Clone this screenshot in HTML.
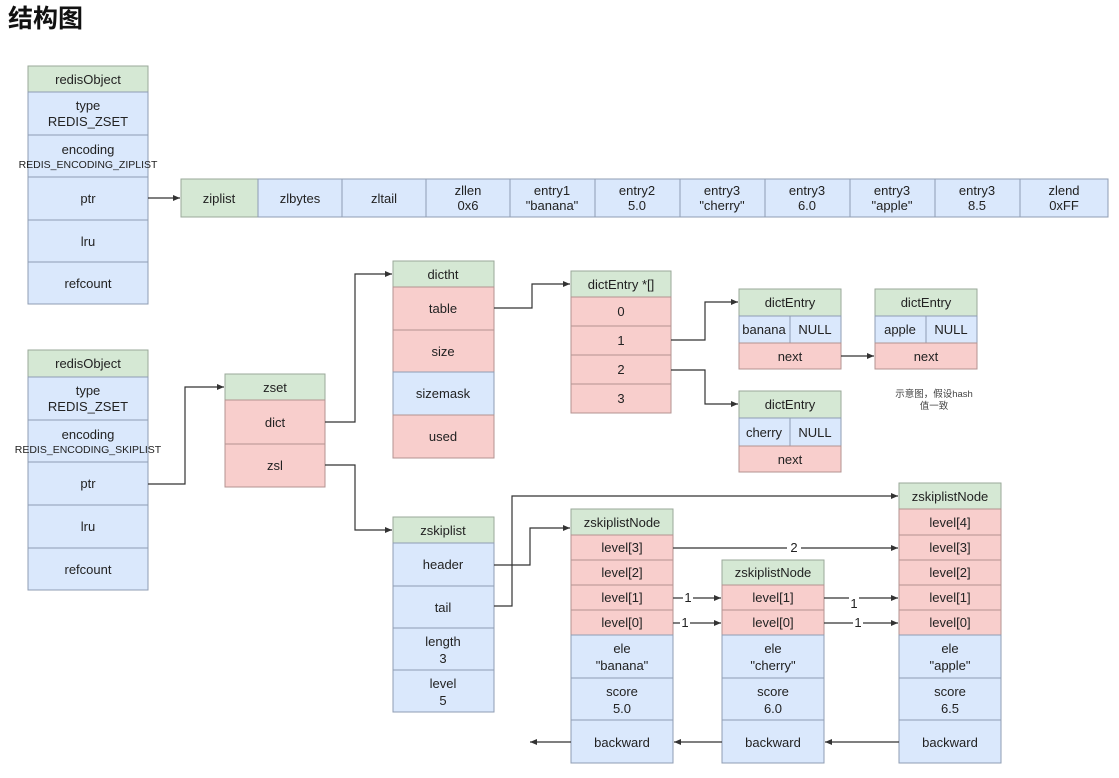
<!DOCTYPE html>
<html><head><meta charset="utf-8">
<style>
html,body{margin:0;padding:0;background:#fff;width:1119px;height:778px;overflow:hidden}
svg text{font-family:"Liberation Sans","Noto Sans CJK SC",sans-serif;font-size:13px;fill:#222}
.g{fill:#d5e8d4;stroke:#9aa89a;stroke-width:1}
.b{fill:#dae8fc;stroke:#8f9db3;stroke-width:1}
.r{fill:#f8cecc;stroke:#b39391;stroke-width:1}
.l{fill:none;stroke:#333;stroke-width:1.2}
</style></head><body>
<svg width="1119" height="778" xmlns="http://www.w3.org/2000/svg">
<defs><marker id="a" markerWidth="8" markerHeight="8" refX="7" refY="4" orient="auto" markerUnits="userSpaceOnUse"><path d="M0,1 L7,4 L0,7 z" fill="#333"/></marker></defs>
<text x="8" y="27" style="font-size:25px;font-weight:bold;fill:#111">结构图</text>

<!-- redisObject 1 -->
<rect class="g" x="28" y="66" width="120" height="26"/><text x="88" y="84" text-anchor="middle">redisObject</text>
<rect class="b" x="28" y="92" width="120" height="43"/><text x="88" y="110" text-anchor="middle">type</text><text x="88" y="126" text-anchor="middle">REDIS_ZSET</text>
<rect class="b" x="28" y="135" width="120" height="42"/><text x="88" y="154" text-anchor="middle">encoding</text><text x="88" y="168" text-anchor="middle" style="font-size:10.5px">REDIS_ENCODING_ZIPLIST</text>
<rect class="b" x="28" y="177" width="120" height="43"/><text x="88" y="203" text-anchor="middle">ptr</text>
<rect class="b" x="28" y="220" width="120" height="42"/><text x="88" y="246" text-anchor="middle">lru</text>
<rect class="b" x="28" y="262" width="120" height="42"/><text x="88" y="288" text-anchor="middle">refcount</text>

<!-- ziplist -->
<rect class="g" x="181" y="179" width="77" height="38"/><text x="219" y="203" text-anchor="middle">ziplist</text>
<rect class="b" x="258" y="179" width="84" height="38"/><text x="300" y="203" text-anchor="middle">zlbytes</text>
<rect class="b" x="342" y="179" width="84" height="38"/><text x="384" y="203" text-anchor="middle">zltail</text>
<rect class="b" x="426" y="179" width="84" height="38"/><text x="468" y="195" text-anchor="middle">zllen</text><text x="468" y="210" text-anchor="middle">0x6</text>
<rect class="b" x="510" y="179" width="85" height="38"/><text x="552" y="195" text-anchor="middle">entry1</text><text x="552" y="210" text-anchor="middle">"banana"</text>
<rect class="b" x="595" y="179" width="85" height="38"/><text x="637" y="195" text-anchor="middle">entry2</text><text x="637" y="210" text-anchor="middle">5.0</text>
<rect class="b" x="680" y="179" width="85" height="38"/><text x="722" y="195" text-anchor="middle">entry3</text><text x="722" y="210" text-anchor="middle">"cherry"</text>
<rect class="b" x="765" y="179" width="85" height="38"/><text x="807" y="195" text-anchor="middle">entry3</text><text x="807" y="210" text-anchor="middle">6.0</text>
<rect class="b" x="850" y="179" width="85" height="38"/><text x="892" y="195" text-anchor="middle">entry3</text><text x="892" y="210" text-anchor="middle">"apple"</text>
<rect class="b" x="935" y="179" width="85" height="38"/><text x="977" y="195" text-anchor="middle">entry3</text><text x="977" y="210" text-anchor="middle">8.5</text>
<rect class="b" x="1020" y="179" width="88" height="38"/><text x="1064" y="195" text-anchor="middle">zlend</text><text x="1064" y="210" text-anchor="middle">0xFF</text>
<path class="l" d="M148,198 H180" marker-end="url(#a)"/>

<!-- redisObject 2 -->
<rect class="g" x="28" y="350" width="120" height="27"/><text x="88" y="368" text-anchor="middle">redisObject</text>
<rect class="b" x="28" y="377" width="120" height="43"/><text x="88" y="395" text-anchor="middle">type</text><text x="88" y="411" text-anchor="middle">REDIS_ZSET</text>
<rect class="b" x="28" y="420" width="120" height="42"/><text x="88" y="439" text-anchor="middle">encoding</text><text x="88" y="453" text-anchor="middle" style="font-size:10.5px">REDIS_ENCODING_SKIPLIST</text>
<rect class="b" x="28" y="462" width="120" height="43"/><text x="88" y="488" text-anchor="middle">ptr</text>
<rect class="b" x="28" y="505" width="120" height="43"/><text x="88" y="531" text-anchor="middle">lru</text>
<rect class="b" x="28" y="548" width="120" height="42"/><text x="88" y="574" text-anchor="middle">refcount</text>

<!-- zset -->
<rect class="g" x="225" y="374" width="100" height="26"/><text x="275" y="392" text-anchor="middle">zset</text>
<rect class="r" x="225" y="400" width="100" height="44"/><text x="275" y="427" text-anchor="middle">dict</text>
<rect class="r" x="225" y="444" width="100" height="43"/><text x="275" y="470" text-anchor="middle">zsl</text>
<path class="l" d="M148,484 H185 V387 H224" marker-end="url(#a)"/>

<!-- dictht -->
<rect class="g" x="393" y="261" width="101" height="26"/><text x="443" y="279" text-anchor="middle">dictht</text>
<rect class="r" x="393" y="287" width="101" height="43"/><text x="443" y="313" text-anchor="middle">table</text>
<rect class="r" x="393" y="330" width="101" height="42"/><text x="443" y="356" text-anchor="middle">size</text>
<rect class="b" x="393" y="372" width="101" height="43"/><text x="443" y="398" text-anchor="middle">sizemask</text>
<rect class="r" x="393" y="415" width="101" height="43"/><text x="443" y="441" text-anchor="middle">used</text>
<path class="l" d="M325,422 H355 V274 H392" marker-end="url(#a)"/>
<path class="l" d="M325,465 H355 V530 H392" marker-end="url(#a)"/>

<!-- dictEntry *[] -->
<rect class="g" x="571" y="271" width="100" height="26"/><text x="621" y="289" text-anchor="middle">dictEntry *[]</text>
<rect class="r" x="571" y="297" width="100" height="29"/><text x="621" y="316" text-anchor="middle">0</text>
<rect class="r" x="571" y="326" width="100" height="29"/><text x="621" y="345" text-anchor="middle">1</text>
<rect class="r" x="571" y="355" width="100" height="29"/><text x="621" y="374" text-anchor="middle">2</text>
<rect class="r" x="571" y="384" width="100" height="29"/><text x="621" y="403" text-anchor="middle">3</text>
<path class="l" d="M494,308 H532 V284 H570" marker-end="url(#a)"/>

<!-- dictEntries -->
<rect class="g" x="739" y="289" width="102" height="27"/><text x="790" y="307" text-anchor="middle">dictEntry</text>
<rect class="b" x="739" y="316" width="51" height="27"/><text x="764" y="334" text-anchor="middle">banana</text>
<rect class="b" x="790" y="316" width="51" height="27"/><text x="815" y="334" text-anchor="middle">NULL</text>
<rect class="r" x="739" y="343" width="102" height="26"/><text x="790" y="361" text-anchor="middle">next</text>

<rect class="g" x="875" y="289" width="102" height="27"/><text x="926" y="307" text-anchor="middle">dictEntry</text>
<rect class="b" x="875" y="316" width="51" height="27"/><text x="900" y="334" text-anchor="middle">apple</text>
<rect class="b" x="926" y="316" width="51" height="27"/><text x="951" y="334" text-anchor="middle">NULL</text>
<rect class="r" x="875" y="343" width="102" height="26"/><text x="926" y="361" text-anchor="middle">next</text>

<rect class="g" x="739" y="391" width="102" height="27"/><text x="790" y="409" text-anchor="middle">dictEntry</text>
<rect class="b" x="739" y="418" width="51" height="28"/><text x="764" y="437" text-anchor="middle">cherry</text>
<rect class="b" x="790" y="418" width="51" height="28"/><text x="815" y="437" text-anchor="middle">NULL</text>
<rect class="r" x="739" y="446" width="102" height="26"/><text x="790" y="464" text-anchor="middle">next</text>

<path class="l" d="M671,340 H705 V302 H738" marker-end="url(#a)"/>
<path class="l" d="M671,370 H705 V404 H738" marker-end="url(#a)"/>
<path class="l" d="M841,356 H874" marker-end="url(#a)"/>
<text x="934" y="397" text-anchor="middle" style="font-size:9.5px;fill:#444">示意图，假设hash</text>
<text x="934" y="409" text-anchor="middle" style="font-size:9.5px;fill:#444">值一致</text>

<!-- zskiplist -->
<rect class="g" x="393" y="517" width="101" height="26"/><text x="443" y="535" text-anchor="middle">zskiplist</text>
<rect class="b" x="393" y="543" width="101" height="43"/><text x="443" y="569" text-anchor="middle">header</text>
<rect class="b" x="393" y="586" width="101" height="42"/><text x="443" y="612" text-anchor="middle">tail</text>
<rect class="b" x="393" y="628" width="101" height="42"/><text x="443" y="646" text-anchor="middle">length</text><text x="443" y="663" text-anchor="middle">3</text>
<rect class="b" x="393" y="670" width="101" height="42"/><text x="443" y="688" text-anchor="middle">level</text><text x="443" y="705" text-anchor="middle">5</text>
<path class="l" d="M494,565 H530 V528 H570" marker-end="url(#a)"/>
<path class="l" d="M494,606 H512 V496 H898" marker-end="url(#a)"/>

<!-- node 1 -->
<rect class="g" x="571" y="509" width="102" height="26"/><text x="622" y="527" text-anchor="middle">zskiplistNode</text>
<rect class="r" x="571" y="535" width="102" height="25"/><text x="622" y="552" text-anchor="middle">level[3]</text>
<rect class="r" x="571" y="560" width="102" height="25"/><text x="622" y="577" text-anchor="middle">level[2]</text>
<rect class="r" x="571" y="585" width="102" height="25"/><text x="622" y="602" text-anchor="middle">level[1]</text>
<rect class="r" x="571" y="610" width="102" height="25"/><text x="622" y="627" text-anchor="middle">level[0]</text>
<rect class="b" x="571" y="635" width="102" height="43"/><text x="622" y="653" text-anchor="middle">ele</text><text x="622" y="670" text-anchor="middle">"banana"</text>
<rect class="b" x="571" y="678" width="102" height="42"/><text x="622" y="696" text-anchor="middle">score</text><text x="622" y="713" text-anchor="middle">5.0</text>
<rect class="b" x="571" y="720" width="102" height="43"/><text x="622" y="747" text-anchor="middle">backward</text>

<!-- node 2 -->
<rect class="g" x="722" y="560" width="102" height="25"/><text x="773" y="577" text-anchor="middle">zskiplistNode</text>
<rect class="r" x="722" y="585" width="102" height="25"/><text x="773" y="602" text-anchor="middle">level[1]</text>
<rect class="r" x="722" y="610" width="102" height="25"/><text x="773" y="627" text-anchor="middle">level[0]</text>
<rect class="b" x="722" y="635" width="102" height="43"/><text x="773" y="653" text-anchor="middle">ele</text><text x="773" y="670" text-anchor="middle">"cherry"</text>
<rect class="b" x="722" y="678" width="102" height="42"/><text x="773" y="696" text-anchor="middle">score</text><text x="773" y="713" text-anchor="middle">6.0</text>
<rect class="b" x="722" y="720" width="102" height="43"/><text x="773" y="747" text-anchor="middle">backward</text>

<!-- node 3 -->
<rect class="g" x="899" y="483" width="102" height="26"/><text x="950" y="501" text-anchor="middle">zskiplistNode</text>
<rect class="r" x="899" y="509" width="102" height="26"/><text x="950" y="527" text-anchor="middle">level[4]</text>
<rect class="r" x="899" y="535" width="102" height="25"/><text x="950" y="552" text-anchor="middle">level[3]</text>
<rect class="r" x="899" y="560" width="102" height="25"/><text x="950" y="577" text-anchor="middle">level[2]</text>
<rect class="r" x="899" y="585" width="102" height="25"/><text x="950" y="602" text-anchor="middle">level[1]</text>
<rect class="r" x="899" y="610" width="102" height="25"/><text x="950" y="627" text-anchor="middle">level[0]</text>
<rect class="b" x="899" y="635" width="102" height="43"/><text x="950" y="653" text-anchor="middle">ele</text><text x="950" y="670" text-anchor="middle">"apple"</text>
<rect class="b" x="899" y="678" width="102" height="42"/><text x="950" y="696" text-anchor="middle">score</text><text x="950" y="713" text-anchor="middle">6.5</text>
<rect class="b" x="899" y="720" width="102" height="43"/><text x="950" y="747" text-anchor="middle">backward</text>

<!-- level links -->
<path class="l" d="M673,548 H898" marker-end="url(#a)"/>
<rect x="787" y="540" width="14" height="14" fill="#fff"/><text x="794" y="552" text-anchor="middle">2</text>
<path class="l" d="M673,598 H721" marker-end="url(#a)"/>
<rect x="683" y="590" width="10" height="14" fill="#fff"/><text x="688" y="602" text-anchor="middle">1</text>
<path class="l" d="M673,623 H721" marker-end="url(#a)"/>
<rect x="680" y="615" width="10" height="14" fill="#fff"/><text x="685" y="627" text-anchor="middle">1</text>
<path class="l" d="M824,598 H898" marker-end="url(#a)"/>
<rect x="849" y="596" width="10" height="14" fill="#fff"/><text x="854" y="608" text-anchor="middle">1</text>
<path class="l" d="M824,623 H898" marker-end="url(#a)"/>
<rect x="853" y="615" width="10" height="14" fill="#fff"/><text x="858" y="627" text-anchor="middle">1</text>

<!-- backward -->
<path class="l" d="M571,742 H530" marker-end="url(#a)"/>
<path class="l" d="M722,742 H674" marker-end="url(#a)"/>
<path class="l" d="M899,742 H825" marker-end="url(#a)"/>
</svg>
</body></html>
